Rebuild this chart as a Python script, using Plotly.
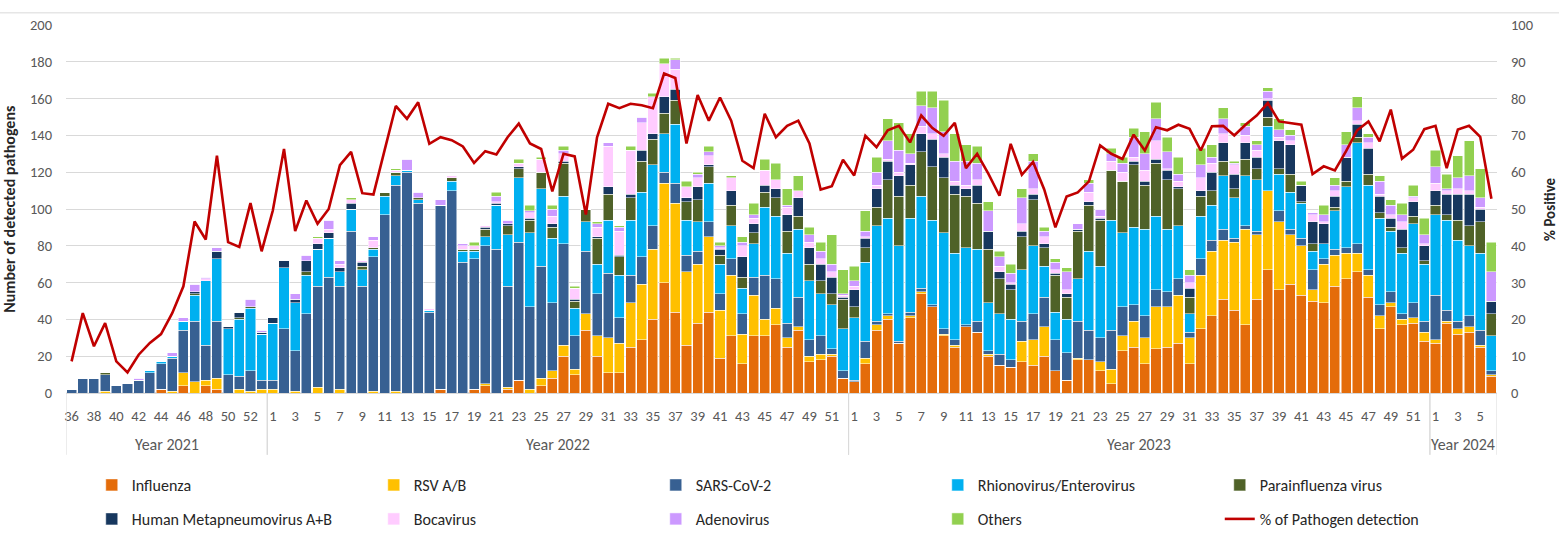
import plotly.graph_objects as go

# ---------------- categories ----------------
year_labels = ["Year 2021", "Year 2022", "Year 2023", "Year 2024"]
weeks_2021 = [36, 37, 38, 39, 40, 41, 42, 43, 44, 45, 46, 47, 48, 49, 50, 51, 52, 53]
weeks_2022 = list(range(1, 53))
weeks_2023 = list(range(1, 53))
weeks_2024 = [1, 2, 3, 4, 5, 6]

# ---------------- series values (counts per week) ----------------
influenza = ([0, 0, 0, 0, 0, 0, 0, 0, 2, 0, 4, 0, 4, 2, 0, 0, 0, 0] +
             [0, 0, 0, 0, 0, 0, 0, 0, 0, 0, 0, 0, 0, 0, 0, 2, 0, 0, 2, 4,
              0, 2, 7, 0, 4, 8, 20, 10, 34, 20, 11, 11, 25, 29, 40, 60, 44, 26, 38, 44,
              19, 31, 16, 31, 31, 37, 25, 34, 17, 18, 20, 8] +
             [6, 16, 34, 40, 27, 41, 54, 47, 31, 25, 36, 33, 20, 15, 14, 17, 15, 20, 12, 7,
              18, 18, 12, 5, 23, 25, 16, 24, 25, 27, 16, 35, 42, 51, 45, 37, 51, 67, 56, 59,
              53, 50, 49, 58, 62, 66, 52, 35, 47, 37, 38, 28] +
             [27, 38, 32, 33, 25, 9])
rsv = ([0, 0, 0, 1, 0, 0, 0, 0, 0, 1, 7, 6, 3, 6, 0, 2, 1, 2] +
       [2, 0, 1, 0, 3, 0, 2, 0, 0, 1, 0, 1, 0, 0, 0, 0, 0, 0, 0, 1,
        0, 1, 0, 2, 4, 4, 6, 3, 9, 11, 19, 16, 24, 30, 38, 54, 59, 40, 32, 41,
        26, 33, 16, 22, 9, 9, 5, 2, 3, 3, 1, 0] +
       [0, 3, 3, 2, 0, 1, 1, 0, 1, 1, 0, 0, 1, 0, 0, 11, 14, 16, 0, 0,
        1, 0, 5, 8, 8, 14, 14, 23, 22, 26, 14, 29, 35, 32, 37, 52, 35, 43, 37, 27,
        27, 6, 21, 17, 14, 10, 12, 7, 2, 3, 3, 5] +
       [2, 1, 3, 3, 1, 1])
sars = ([2, 8, 8, 9, 4, 5, 7, 11, 14, 18, 23, 33, 19, 31, 10, 7, 11, 5] +
        [5, 35, 22, 43, 55, 63, 56, 88, 58, 73, 97, 112, 120, 103, 44, 100, 110, 71, 71, 75,
         78, 55, 75, 45, 61, 37, 55, 18, 34, 23, 35, 14, 15, 15, 13, 6, 11, 9, 7, 8,
         9, 9, 11, 10, 24, 16, 8, 16, 9, 10, 3, 4] +
        [1, 9, 2, 1, 1, 2, 2, 1, 3, 3, 1, 6, 2, 6, 4, 11, 14, 16, 17, 15,
         20, 16, 13, 21, 16, 9, 12, 9, 8, 9, 3, 9, 6, 6, 2, 2, 2, 0, 6, 3,
         4, 11, 3, 3, 3, 5, 3, 6, 6, 3, 8, 6] +
        [24, 6, 4, 6, 8, 2])
rhino = ([0, 0, 0, 0, 0, 0, 0, 1, 1, 1, 5, 14, 35, 34, 25, 31, 34, 25] +
         [31, 33, 26, 21, 20, 21, 8, 12, 9, 4, 10, 5, 1, 2, 1, 0, 5, 6, 4, 5,
          24, 28, 35, 40, 42, 35, 26, 15, 16, 16, 29, 23, 30, 35, 33, 21, 32, 19, 16, 21,
          16, 18, 14, 18, 37, 34, 38, 37, 32, 23, 24, 23] +
         [34, 43, 52, 52, 52, 51, 50, 46, 52, 47, 42, 39, 26, 22, 22, 28, 37, 17, 15, 18,
          23, 43, 39, 60, 40, 42, 47, 40, 34, 29, 10, 23, 19, 29, 22, 27, 28, 35, 20, 20,
          19, 10, 8, 21, 33, 55, 46, 47, 33, 33, 43, 31] +
         [44, 49, 44, 38, 42, 19])
parainfluenza = ([0, 0, 0, 1, 0, 0, 0, 0, 0, 0, 0, 1, 0, 0, 0, 1, 1, 0] +
                 [0, 0, 0, 2, 0, 0, 0, 0, 2, 1, 2, 2, 0, 1, 0, 0, 2, 1, 1, 4,
                  0, 5, 5, 7, 9, 6, 18, 4, 7, 14, 14, 10, 12, 17, 14, 11, 13, 10, 12, 9,
                  5, 11, 6, 6, 8, 10, 12, 7, 9, 7, 6, 16] +
                 [6, 8, 10, 21, 27, 18, 24, 29, 30, 32, 28, 25, 29, 19, 16, 18, 25, 10, 20, 12,
                  26, 25, 25, 27, 28, 34, 24, 29, 27, 20, 9, 11, 8, 8, 5, 9, 6, 5, 3, 10,
                  1, 4, 0, 2, 3, 3, 6, 3, 2, 3, 4, 2] +
                 [5, 3, 11, 11, 17, 12])
hmpv = ([0, 0, 0, 0, 0, 0, 0, 0, 0, 0, 0, 1, 0, 4, 1, 3, 0, 1] +
        [3, 4, 2, 6, 3, 3, 2, 3, 2, 0, 0, 0, 0, 0, 0, 0, 0, 0, 0, 1,
         1, 1, 1, 1, 0, 2, 1, 1, 0, 1, 4, 1, 2, 6, 3, 9, 6, 2, 7, 1,
         3, 8, 11, 5, 4, 5, 9, 10, 9, 9, 9, 1] +
        [9, 5, 10, 10, 11, 11, 10, 15, 11, 5, 4, 10, 10, 4, 3, 3, 3, 2, 1, 2,
         1, 2, 1, 0, 0, 2, 2, 2, 5, 1, 5, 3, 10, 10, 8, 9, 6, 9, 15, 16,
         9, 12, 11, 6, 13, 7, 14, 9, 5, 10, 8, 8] +
        [8, 11, 14, 17, 7, 7])
bocavirus = ([0, 0, 0, 0, 0, 0, 0, 0, 0, 0, 0, 0, 1, 0, 0, 0, 0, 0] +
             [0, 0, 0, 0, 3, 2, 2, 2, 1, 4, 0, 1, 0, 0, 1, 0, 1, 2, 2, 1,
              1, 0, 2, 3, 7, 4, 4, 6, 0, 5, 22, 13, 24, 15, 20, 18, 11, 6, 5, 5,
              1, 7, 6, 3, 8, 5, 4, 4, 3, 3, 3, 1] +
             [2, 1, 2, 1, 2, 1, 4, 3, 2, 2, 2, 3, 0, 3, 1, 4, 3, 4, 2, 2,
              0, 5, 1, 5, 5, 2, 6, 10, 1, 3, 3, 7, 5, 5, 5, 4, 4, 1, 2, 2,
              0, 4, 1, 3, 0, 2, 3, 1, 2, 4, 2, 1] +
             [4, 2, 3, 2, 1, 0])
adenovirus = ([0, 0, 0, 0, 0, 0, 1, 0, 0, 2, 2, 4, 1, 2, 0, 0, 4, 1] +
              [0, 0, 3, 3, 0, 5, 2, 0, 0, 2, 0, 0, 6, 3, 0, 3, 0, 1, 0, 0,
               3, 2, 0, 1, 0, 4, 2, 0, 0, 2, 2, 2, 0, 3, 0, 0, 5, 0, 2, 2,
               1, 0, 2, 2, 0, 0, 1, 0, 4, 4, 4, 1] +
              [3, 3, 7, 10, 12, 5, 11, 14, 12, 11, 13, 9, 11, 5, 5, 14, 15, 3, 4, 10,
               3, 5, 4, 4, 5, 11, 9, 12, 9, 4, 4, 7, 3, 8, 1, 5, 3, 4, 4, 3,
               0, 1, 4, 3, 7, 7, 3, 7, 5, 4, 1, 5] +
              [9, 1, 6, 8, 5, 16])
others = ([0, 0, 0, 0, 0, 0, 0, 0, 0, 0, 0, 0, 0, 0, 0, 0, 0, 0] +
          [0, 0, 0, 0, 1, 0, 0, 1, 0, 0, 0, 1, 0, 0, 0, 0, 0, 0, 2, 0,
           2, 0, 2, 3, 1, 2, 2, 1, 0, 1, 0, 1, 2, 0, 2, 3, 1, 3, 1, 3,
           2, 1, 3, 6, 6, 9, 9, 8, 4, 5, 16, 13] +
          [8, 11, 8, 12, 15, 11, 8, 9, 17, 15, 9, 9, 5, 3, 5, 5, 4, 2, 2, 2,
           0, 2, 0, 3, 3, 5, 12, 9, 8, 9, 3, 9, 7, 6, 1, 2, 2, 2, 6, 3,
           2, 0, 5, 4, 7, 6, 2, 3, 3, 6, 6, 9] +
          [9, 8, 12, 19, 16, 16])
pct_detection = ([8.6, 21.7, 12.7, 19, 8.6, 5.6, 10.4, 13.6, 16, 21.7, 29, 46.6, 41.7, 64.5, 41, 39.7, 51.6, 38.5] +
                 [49.6, 66.3, 44, 52.3, 46, 50, 61.9, 65.5, 54.3, 53.9, 66, 78, 74.5, 79, 67.7, 69.5, 68.7, 67, 62.5, 65.7,
                  64.8, 69.5, 73.2, 67.8, 66.3, 54.8, 65, 64.3, 48.5, 69.5, 78.6, 77.4, 78.6, 78.2, 77.4, 86.8, 85.6, 67.8, 81, 74,
                  80.3, 74, 63.1, 61.1, 75.9, 69.5, 72.6, 74, 67.8, 55.3, 56.2, 63.4] +
                 [59.1, 69.9, 66.8, 71.4, 72.6, 68.1, 75.4, 72, 69.9, 73.4, 61.1, 65, 59.6, 53.6, 67.7, 59.3, 62.8, 55.3, 45, 53.4,
                  54.5, 57.5, 67.3, 65, 63.6, 70.2, 65.9, 72.2, 71.4, 72.9, 71.8, 65.9, 72.5, 72.6, 70, 72.9, 75.4, 78.8, 73.8, 73.4,
                  72.9, 59.5, 61.6, 60.5, 65.7, 71.4, 73.8, 68.4, 77, 63.7, 66.1, 71.7] +
                 [72.6, 61.1, 71.6, 72.6, 69.6, 52.8])

series_names = ["Influenza", "RSV A/B", "SARS-CoV-2", "Rhionovirus/Enterovirus", "Parainfluenza virus",
                "Human Metapneumovirus A+B", "Bocavirus", "Adenovirus", "Others"]
series_colors = ["#E46C0A", "#FFC000", "#376092", "#00B0F0", "#4F6228",
                 "#17375E", "#FFCCFF", "#CC99FF", "#92D050"]
series_values = [influenza, rsv, sars, rhino, parainfluenza, hmpv, bocavirus, adenovirus, others]

# ---------------- build category positions ----------------
year_weeks = [weeks_2021, weeks_2022, weeks_2023, weeks_2024]
week_labels = []
group_bounds = []
pos = 0
for wk in year_weeks:
    group_bounds.append((pos, pos + len(wk) - 1))
    week_labels += wk
    pos += len(wk)
xpos = list(range(len(week_labels)))

FONT = "Carlito, Lato, 'Open Sans', sans-serif"
TICK_COLOR = "#595959"

fig = go.Figure()
for i, (name, col, vals) in enumerate(zip(series_names, series_colors, series_values)):
    fig.add_trace(go.Bar(
        x=xpos, y=vals, name=name, marker_color=col,
        marker_line=dict(color="white", width=0.5),
        legend="legend" if i < 5 else "legend2",
    ))
fig.add_trace(go.Scatter(
    x=xpos, y=pct_detection, name="% of Pathogen detection", mode="lines",
    line=dict(color="#C00000", width=2.6), yaxis="y2", legend="legend2",
))

shapes = []
for (a, b) in group_bounds:
    for xb in (a - 0.5, b + 0.5):
        shapes.append(dict(type="line", xref="x", yref="paper", x0=xb, x1=xb, y0=0, y1=-0.168,
                           line=dict(color="#D9D9D9", width=1)))
# outer frame line at top
shapes.append(dict(type="line", xref="paper", yref="paper", x0=-0.05, x1=1.05, y0=1.033, y1=1.033,
                   line=dict(color="#D9D9D9", width=1)))

annotations = []
for lab, (a, b) in zip(year_labels, group_bounds):
    annotations.append(dict(x=(a + b) / 2, y=-0.141, xref="x", yref="paper", text=lab, showarrow=False,
                            font=dict(size=16, color=TICK_COLOR, family=FONT), yanchor="middle"))
annotations.append(dict(x=-0.040, y=0.5, xref="paper", yref="paper", text="<b>Number of detected pathogens</b>",
                        textangle=-90, showarrow=False, xanchor="center", yanchor="middle",
                        font=dict(size=16, color="#262626", family=FONT)))
annotations.append(dict(x=1.037, y=0.5, xref="paper", yref="paper", text="<b>% Positive</b>",
                        textangle=-90, showarrow=False, xanchor="center", yanchor="middle",
                        font=dict(size=15, color="#262626", family=FONT)))

legend_common = dict(orientation="h", xanchor="left", yanchor="middle", entrywidth=237,
                     entrywidthmode="pixels", bgcolor="rgba(0,0,0,0)", yref="container",
                     font=dict(size=16, color="#262626", family=FONT), traceorder="normal")

fig.update_layout(
    width=1559, height=540,
    margin=dict(l=66, r=62, t=25, b=147),
    paper_bgcolor="white", plot_bgcolor="white",
    barmode="stack", bargap=0.1,
    font=dict(family=FONT, color=TICK_COLOR),
    xaxis=dict(range=[-0.5, len(xpos) - 0.5], tickmode="array", tickvals=xpos[::2],
               ticktext=[str(w) for w in week_labels[::2]], tickangle=0,
               tickfont=dict(size=14.5, color=TICK_COLOR), showgrid=False, zeroline=False,
               showline=False, ticks="", ticklabelstandoff=12, automargin=False),
    yaxis=dict(range=[0, 200], dtick=20, showgrid=True, gridcolor="#D9D9D9", gridwidth=1,
               zeroline=True, zerolinecolor="#D9D9D9", tickfont=dict(size=14.5, color=TICK_COLOR),
               ticks="", ticklabelstandoff=13, automargin=False),
    yaxis2=dict(range=[0, 100], dtick=10, overlaying="y", side="right", showgrid=False,
                zeroline=False, tickfont=dict(size=14.5, color=TICK_COLOR), ticks="",
                ticklabelstandoff=13, automargin=False),
    legend=dict(x=0.018, y=1 - 485 / 540, **legend_common),
    legend2=dict(x=0.018, y=1 - 519 / 540, **legend_common),
    shapes=shapes, annotations=annotations,
    showlegend=True,
)

fig.write_html("out.html", config={"displayModeBar": False},
               post_script="document.body.style.margin='0px';")
